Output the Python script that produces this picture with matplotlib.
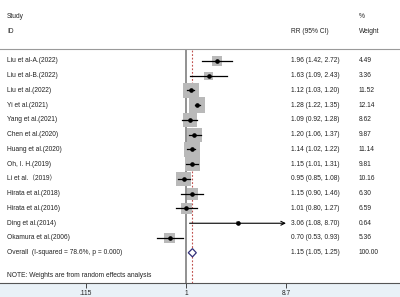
import matplotlib
matplotlib.use("Agg")
import matplotlib.pyplot as plt
from matplotlib.patches import Polygon, Rectangle
import numpy as np

plt.rcParams['font.family'] = ['Liberation Sans', 'Noto Sans CJK SC', 'DejaVu Sans']

studies = ["Liu et al-A.(2022)", "Liu et al-B.(2022)", "Liu et al.(2022)", "Yi et al.(2021)",
           "Yang et al.(2021)", "Chen et al.(2020)", "Huang et al.(2020)", "Oh, I. H.(2019)",
           "Li et al.\uff082019\uff09", "Hirata et al.(2018)", "Hirata et al.(2016)", "Ding et al.(2014)",
           "Okamura et al.(2006)"]
rr = [1.96, 1.63, 1.12, 1.28, 1.09, 1.20, 1.14, 1.15, 0.95, 1.15, 1.01, 3.06, 0.70]
lo = [1.42, 1.09, 1.03, 1.22, 0.92, 1.06, 1.02, 1.01, 0.85, 0.90, 0.80, 1.08, 0.53]
hi = [2.72, 2.43, 1.20, 1.35, 1.28, 1.37, 1.22, 1.31, 1.08, 1.46, 1.27, 8.70, 0.93]
weights = [4.49, 3.36, 11.52, 12.14, 8.62, 9.87, 11.14, 9.81, 10.16, 6.30, 6.59, 0.64, 5.36]
overall_label = "Overall  (I-squared = 78.6%, p = 0.000)"
overall = (1.15, 1.05, 1.25)
overall_weight = "100.00"
note = "NOTE: Weights are from random effects analysis"
xticks = [0.115, 1, 8.7]
xticklabels = [".115", "1", "8.7"]

W, H = 400, 297
fig = plt.figure(figsize=(W / 100, H / 100), dpi=100)
fig.patch.set_facecolor("white")
bg_ax = fig.add_axes([0, 0, 1, (H - 283) / H], zorder=-5)
bg_ax.set_facecolor("#e9f1f7")
bg_ax.set_axis_off()
bg_ax.add_patch(Rectangle((0, 0), 1, 1, transform=bg_ax.transAxes, facecolor="#e9f1f7", edgecolor="none"))

ax = fig.add_axes([0, (H - 283) / H, 1, (283 - 49) / H], zorder=1)
ax.set_facecolor("none")
ax.set_xscale("log")
ppd = 106.4
ax.set_xlim(10 ** (-186 / ppd), 10 ** ((400 - 186) / ppd))
step = 14.75
ax.set_ylim((283 - 61) / step, (49 - 61) / step)

for s in ["left", "right"]:
    ax.spines[s].set_visible(False)
ax.spines["top"].set_color("#9a9a9a")
ax.spines["top"].set_linewidth(0.8)
ax.spines["bottom"].set_color("#555555")
ax.spines["bottom"].set_linewidth(0.8)
ax.set_yticks([])
ax.set_xticks(xticks)
ax.set_xticklabels(xticklabels)
ax.minorticks_off()
ax.tick_params(axis="x", direction="out", length=3.5, width=0.7, color="#444444",
               labelsize=4.8, pad=1.5, labelcolor="#222222")

ax.axvline(1, color="#7f7f7f", lw=1.2, zorder=1)
ax.axvline(overall[0], color="#c0504d", lw=0.8, ls=(0, (1.6, 1.6)), zorder=1)

n = len(studies)
ys = np.arange(n)
for i in range(n):
    side = 3.3 * np.sqrt(weights[i])
    ax.scatter(rr[i], ys[i], marker="s", s=side ** 2, color="#b9b9b9", edgecolors="none", zorder=2)
    if i == 11:
        ax.annotate("", xy=(hi[i], ys[i]), xytext=(lo[i], ys[i]),
                    arrowprops=dict(arrowstyle="->", color="black", lw=0.8,
                                    shrinkA=0, shrinkB=0, mutation_scale=7), zorder=3)
    else:
        ax.plot([lo[i], hi[i]], [ys[i], ys[i]], color="black", lw=0.9, zorder=3)
    ax.plot(rr[i], ys[i], "o", color="black", ms=2.3, zorder=4)

yo = n
dh = 0.28
ax.add_patch(Polygon([(overall[1], yo), (overall[0], yo - dh), (overall[2], yo), (overall[0], yo + dh)],
                     closed=True, facecolor="white", edgecolor="#33307a", lw=0.9, zorder=4))

tr = ax.get_yaxis_transform()
fs = 4.8
xs_lab, xs_rr, xs_w = 7 / W, 291 / W, 359 / W
tc = "#222222"
for i in range(n):
    ax.text(xs_lab, ys[i], studies[i], transform=tr, fontsize=fs, va="center", ha="left", color=tc)
    ax.text(xs_rr, ys[i], f"{rr[i]:.2f} ({lo[i]:.2f}, {hi[i]:.2f})", transform=tr, fontsize=fs,
            va="center", ha="left", color=tc)
    ax.text(xs_w, ys[i], f"{weights[i]:.2f}", transform=tr, fontsize=fs, va="center", ha="left", color=tc)
ax.text(xs_lab, yo, overall_label, transform=tr, fontsize=fs, va="center", ha="left", color=tc)
ax.text(xs_rr, yo, f"{overall[0]:.2f} ({overall[1]:.2f}, {overall[2]:.2f})", transform=tr,
        fontsize=fs, va="center", ha="left", color=tc)
ax.text(xs_w, yo, overall_weight, transform=tr, fontsize=fs, va="center", ha="left", color=tc)
ax.text(xs_lab, 14.55, note, transform=tr, fontsize=fs, va="center", ha="left", color=tc)

ax.text(xs_lab, -3.0, "Study", transform=tr, fontsize=fs, va="center", ha="left", color=tc, clip_on=False)
ax.text(xs_lab, -2.0, "ID", transform=tr, fontsize=fs, va="center", ha="left", color=tc, clip_on=False)
ax.text(xs_rr, -2.0, "RR (95% CI)", transform=tr, fontsize=fs, va="center", ha="left", color=tc, clip_on=False)
ax.text(xs_w, -3.0, "%", transform=tr, fontsize=fs, va="center", ha="left", color=tc, clip_on=False)
ax.text(xs_w, -2.0, "Weight", transform=tr, fontsize=fs, va="center", ha="left", color=tc, clip_on=False)

fig.savefig("out.png", dpi=100, facecolor="white")
